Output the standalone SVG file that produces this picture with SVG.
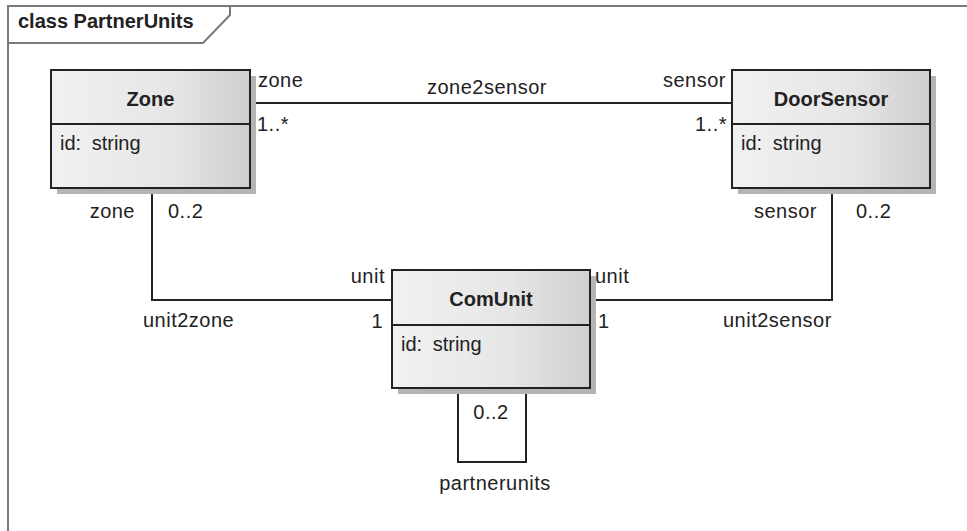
<svg xmlns="http://www.w3.org/2000/svg" width="967" height="531" viewBox="0 0 967 531">
<style>
  text { font-family: "Liberation Sans", Arial, sans-serif; fill: #222; font-size: 20px; }
  .lbl { letter-spacing: 0.5px; }
  .title { font-weight: bold; text-anchor: middle; }
  .attr { word-spacing: 5px; }
  .box { fill: url(#grad); stroke: #222; stroke-width: 2; }
  .shadow { fill: #b4b4b4; }
  .div { stroke: #222; stroke-width: 2; }
  .conn { fill: none; stroke: #222; stroke-width: 2; }
  .frame { fill: none; stroke: #7a7a7a; stroke-width: 2; }
  .end { text-anchor: end; }
  .mid { text-anchor: middle; }
</style>
<defs>
  <linearGradient id="grad" x1="0" y1="0" x2="1" y2="0">
    <stop offset="0" stop-color="#f1f1f1"/>
    <stop offset="0.6" stop-color="#e6e6e6"/>
    <stop offset="1" stop-color="#cfcfcf"/>
  </linearGradient>
</defs>
<rect width="967" height="531" fill="#fff"/>
<g id="frame">
  <path class="frame" d="M8,531 V6 H967"/>
  <path class="frame" d="M8,43 H203 L230,15 V6"/>
  <text x="18" y="28" style="font-weight:bold">class PartnerUnits</text>
</g>
<g id="connectors">
  <line class="conn" x1="250" y1="103" x2="732" y2="103"/>
  <polyline class="conn" points="152,188 152,300 392,300"/>
  <polyline class="conn" points="832,188 832,300 590,300"/>
  <polyline class="conn" points="458,388 458,462 526,462 526,388"/>
  <text class="lbl" x="258" y="87">zone</text>
  <text class="lbl" x="257" y="131">1..*</text>
  <text class="lbl" x="427" y="94">zone2sensor</text>
  <text class="lbl end" x="726" y="87">sensor</text>
  <text class="lbl end" x="727" y="131">1..*</text>
  <text class="lbl end" x="135" y="218">zone</text>
  <text class="lbl" x="168" y="218">0..2</text>
  <text class="lbl end" x="817" y="218">sensor</text>
  <text class="lbl" x="856" y="218">0..2</text>
  <text class="lbl end" x="385" y="283">unit</text>
  <text class="lbl end" x="383" y="328">1</text>
  <text class="lbl" x="143" y="327">unit2zone</text>
  <text class="lbl" x="595" y="283">unit</text>
  <text class="lbl" x="598" y="328">1</text>
  <text class="lbl" x="723" y="327">unit2sensor</text>
  <text class="lbl mid" x="491" y="419">0..2</text>
  <text class="lbl mid" x="495" y="490">partnerunits</text>
</g>
<g id="Zone">
  <rect class="shadow" x="57" y="76" width="199" height="118"/>
  <rect class="box" x="51" y="70" width="199" height="118"/>
  <line class="div" x1="51" y1="124" x2="250" y2="124"/>
  <text class="title" x="150.5" y="106">Zone</text>
  <text class="attr" x="60" y="150">id: string</text>
</g>
<g id="DoorSensor">
  <rect class="shadow" x="738" y="76" width="198" height="118"/>
  <rect class="box" x="732" y="70" width="198" height="118"/>
  <line class="div" x1="732" y1="124" x2="930" y2="124"/>
  <text class="title" x="831" y="106">DoorSensor</text>
  <text class="attr" x="741" y="150">id: string</text>
</g>
<g id="ComUnit">
  <rect class="shadow" x="398" y="276" width="198" height="118"/>
  <rect class="box" x="392" y="270" width="198" height="118"/>
  <line class="div" x1="392" y1="325" x2="590" y2="325"/>
  <text class="title" x="491" y="306">ComUnit</text>
  <text class="attr" x="401" y="351">id: string</text>
</g>
</svg>
